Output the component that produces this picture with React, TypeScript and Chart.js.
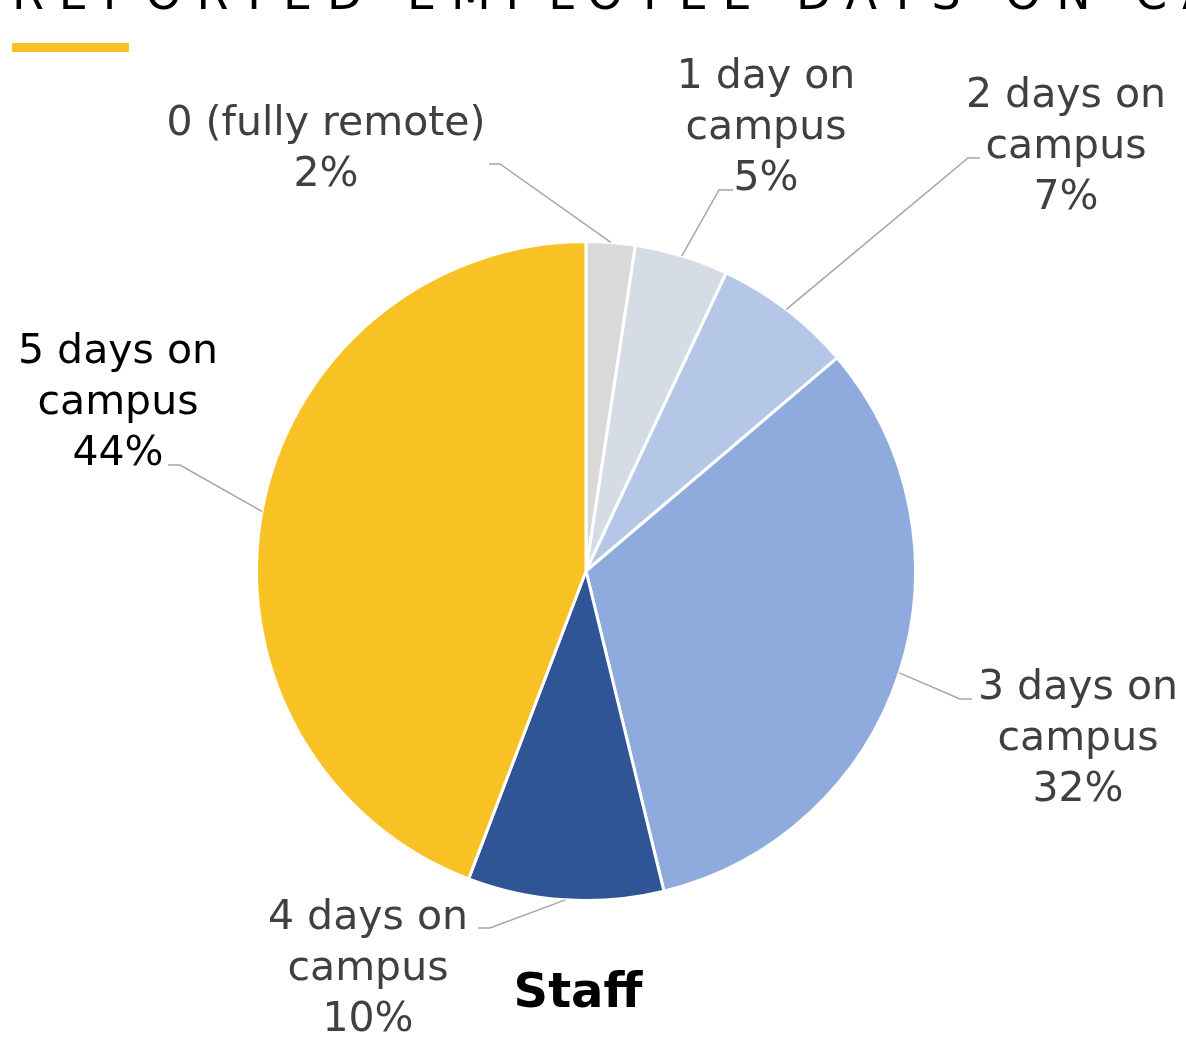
import React, { useEffect, useRef } from "react";
import { Chart, registerables } from "chart.js";

Chart.register(...registerables);

const categories = [
  "0 (fully remote)",
  "1 day on campus",
  "2 days on campus",
  "3 days on campus",
  "4 days on campus",
  "5 days on campus",
];
const labelLines = [
  ["0 (fully remote)"],
  ["1 day on", "campus"],
  ["2 days on", "campus"],
  ["3 days on", "campus"],
  ["4 days on", "campus"],
  ["5 days on", "campus"],
];
// slice shares (percent); labels show them rounded
const values = [2.4, 4.6, 6.8, 32.4, 9.6, 44.2];
const sliceColors = ["#d9d9d9", "#d6dce5", "#b4c7e7", "#8faadc", "#2f5597", "#f8c224"];
const titleText = "REPORTED EMPLOYEE DAYS ON CAMPUS";
const subtitleText = "Staff";

// label layout (text centre x, first baseline, leader elbow, leader end, colour)
const labelLayout = [
  { x: 326, y: 135, elbow: [500, 164], end: [489, 164], color: "#404040" },
  { x: 766, y: 88, elbow: [719, 190], end: [733, 190], color: "#404040" },
  { x: 1066, y: 107, elbow: [968, 158], end: [980, 158], color: "#404040" },
  { x: 1078, y: 699, elbow: [960, 699], end: [972, 699], color: "#404040" },
  { x: 368, y: 929, elbow: [490, 928], end: [478, 928], color: "#404040" },
  { x: 118, y: 363, elbow: [180, 465], end: [168, 465], color: "#000000" },
];
const LINE_GAP = 51;
const LABEL_FONT = "41px 'DejaVu Sans'";

const decorPlugin = {
  id: "decor",
  afterDraw(chart: any) {
    const ctx = chart.ctx as CanvasRenderingContext2D;
    ctx.save();
    // title (cut at top)
    ctx.fillStyle = "#000";
    ctx.font = "46px 'DejaVu Sans'";
    ctx.textAlign = "left";
    ctx.textBaseline = "alphabetic";
    const prefix = "REPORTED EMPLOYEE DAYS ON ";
    const w = ctx.measureText(prefix).width;
    const spacing = (1135 - 12 - w) / prefix.length;
    (ctx as any).letterSpacing = spacing + "px";
    ctx.fillText(titleText, 12, 9);
    (ctx as any).letterSpacing = "0px";
    // yellow bar
    ctx.fillStyle = "#f8c224";
    ctx.fillRect(12, 43, 117, 9);
    // subtitle
    ctx.fillStyle = "#000";
    ctx.font = "bold 48px 'DejaVu Sans'";
    ctx.textAlign = "center";
    ctx.fillText(subtitleText, 578, 1007);
    ctx.restore();
  },
  afterDatasetsDraw(chart: any) {
    const ctx = chart.ctx as CanvasRenderingContext2D;
    const meta = chart.getDatasetMeta(0);
    const total = values.reduce((a, b) => a + b, 0);
    ctx.save();
    meta.data.forEach((arc: any, i: number) => {
      const p = arc.getProps(["x", "y", "startAngle", "endAngle", "outerRadius"], true);
      const mid = (p.startAngle + p.endAngle) / 2;
      const sx = p.x + Math.cos(mid) * p.outerRadius;
      const sy = p.y + Math.sin(mid) * p.outerRadius;
      const L = labelLayout[i];
      ctx.strokeStyle = "#a6a6a6";
      ctx.lineWidth = 1.5;
      ctx.beginPath();
      ctx.moveTo(sx, sy);
      ctx.lineTo(L.elbow[0], L.elbow[1]);
      ctx.lineTo(L.end[0], L.end[1]);
      ctx.stroke();
      ctx.fillStyle = L.color;
      ctx.font = LABEL_FONT;
      ctx.textAlign = "center";
      ctx.textBaseline = "alphabetic";
      const pct = Math.round((values[i] / total) * 100);
      const lines = [...labelLines[i], `${pct}%`];
      lines.forEach((t, k) => ctx.fillText(t, L.x, L.y + k * LINE_GAP));
    });
    ctx.restore();
  },
};

export default function App() {
  const ref = useRef<HTMLCanvasElement>(null);
  useEffect(() => {
    if (!ref.current) return;
    const chart = new Chart(ref.current, {
      type: "pie",
      data: {
        labels: categories,
        datasets: [
          {
            data: values,
            backgroundColor: sliceColors,
            borderColor: "#ffffff",
            borderWidth: 3,
            hoverOffset: 0,
          },
        ],
      },
      options: {
        responsive: false,
        animation: false,
        layout: { padding: { left: 255, top: 240, right: 269, bottom: 135 } },
        plugins: {
          legend: { display: false },
          tooltip: { enabled: false },
        },
      },
      plugins: [decorPlugin],
    });
    return () => chart.destroy();
  }, []);
  return (
    <div style={{ position: "fixed", left: 0, top: 0, width: 1186, height: 1037, background: "#fff" }}>
      <canvas ref={ref} width={1186} height={1037} style={{ display: "block" }} />
    </div>
  );
}
